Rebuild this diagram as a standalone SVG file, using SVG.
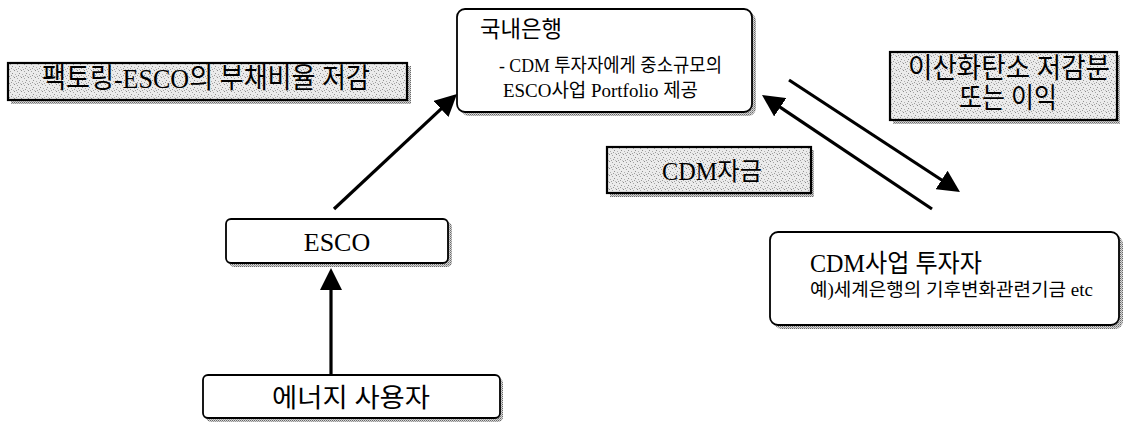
<svg xmlns="http://www.w3.org/2000/svg" width="1123" height="422" viewBox="0 0 1123 422">
<style>
text{font-family:"Liberation Serif","Noto Sans CJK KR",serif;fill:#000}
.node{fill:#fff;stroke:#000;stroke-width:1.8}
.lab{fill:url(#speckle);stroke:#000;stroke-width:2.2}
.shadow{fill:url(#dots);stroke:none}
.conn{stroke:#000;stroke-width:3.2;fill:none;marker-end:url(#ah)}
</style>
<defs>
<pattern id="speckle" width="7" height="7" patternUnits="userSpaceOnUse">
<rect width="7" height="7" fill="#ebebeb"/>
<rect x="0" y="0" width="1" height="1" fill="#8a8a8a"/>
<rect x="3" y="1" width="1" height="1" fill="#a5a5a5"/>
<rect x="5" y="3" width="1" height="1" fill="#909090"/>
<rect x="1" y="4" width="1" height="1" fill="#b0b0b0"/>
<rect x="4" y="5" width="1" height="1" fill="#999"/>
<rect x="6" y="6" width="1" height="1" fill="#bdbdbd"/>
<rect x="2" y="6" width="1" height="1" fill="#a0a0a0"/>
</pattern>
<pattern id="dots" width="2" height="2" patternUnits="userSpaceOnUse">
<rect width="2" height="2" fill="#d6d6d6"/>
<rect width="1" height="1" fill="#6a6a6a"/>
<rect x="1" y="1" width="1" height="1" fill="#9a9a9a"/>
</pattern>
<marker id="ah" viewBox="0 0 22 22" refX="12" refY="11" markerWidth="22" markerHeight="22" orient="auto" markerUnits="userSpaceOnUse">
<path d="M0,0 L22,11 L0,22 z" fill="#000"/>
</marker>
</defs>

<g id="label-factoring">
<rect class="shadow" x="11" y="66" width="400" height="38"/>
<rect class="lab" x="8" y="63" width="399" height="37"/>
<text x="42" y="88" font-size="28" textLength="328" lengthAdjust="spacingAndGlyphs">팩토링-ESCO의 부채비율 저감</text>
</g>

<g id="label-co2">
<rect class="shadow" x="893" y="55" width="227" height="69"/>
<rect class="lab" x="890" y="52" width="227" height="68"/>
<text x="908" y="78" font-size="28" textLength="202" lengthAdjust="spacingAndGlyphs">이산화탄소 저감분</text>
<text x="959" y="108" font-size="28" textLength="98" lengthAdjust="spacingAndGlyphs">또는 이익</text>
</g>

<g id="label-cdmfund">
<rect class="shadow" x="610" y="150" width="204" height="47"/>
<rect class="lab" x="607" y="147" width="204" height="46"/>
<text x="662" y="180" font-size="25" textLength="100" lengthAdjust="spacingAndGlyphs">CDM자금</text>
</g>

<g id="node-bank">
<rect class="shadow" x="461" y="13" width="295" height="103" rx="8"/>
<rect class="node" x="457" y="9" width="295" height="103" rx="8"/>
<text x="480" y="37" font-size="23" textLength="82" lengthAdjust="spacingAndGlyphs">국내은행</text>
<text x="499" y="72" font-size="19" textLength="223" lengthAdjust="spacingAndGlyphs">- CDM 투자자에게 중소규모의</text>
<text x="503" y="97" font-size="19" textLength="195" lengthAdjust="spacingAndGlyphs">ESCO사업 Portfolio 제공</text>
</g>

<g id="node-esco">
<rect class="shadow" x="229" y="222" width="223" height="45" rx="5"/>
<rect class="node" x="226" y="219" width="222" height="44" rx="5"/>
<text x="337" y="251" font-size="26" text-anchor="middle">ESCO</text>
</g>

<g id="node-user">
<rect class="shadow" x="206" y="378" width="297" height="44" rx="5"/>
<rect class="node" x="203" y="375" width="297" height="43" rx="5"/>
<text x="272" y="407" font-size="26" textLength="158" lengthAdjust="spacingAndGlyphs">에너지 사용자</text>
</g>

<g id="node-investor">
<rect class="shadow" x="774" y="236" width="349" height="93" rx="8"/>
<rect class="node" x="770" y="232" width="349" height="93" rx="8"/>
<text x="810" y="272" font-size="25" textLength="172" lengthAdjust="spacingAndGlyphs">CDM사업 투자자</text>
<text x="810" y="296" font-size="18" textLength="283" lengthAdjust="spacingAndGlyphs">예)세계은행의 기후변화관련기금 etc</text>
</g>

<g id="connectors">
<line class="conn" x1="334" y1="209" x2="449.7" y2="100.8"/>
<line class="conn" x1="331" y1="375" x2="331" y2="278"/>
<line class="conn" x1="789" y1="80" x2="951.6" y2="186.5"/>
<line class="conn" x1="932" y1="209" x2="770.3" y2="100.6"/>
</g>
</svg>
